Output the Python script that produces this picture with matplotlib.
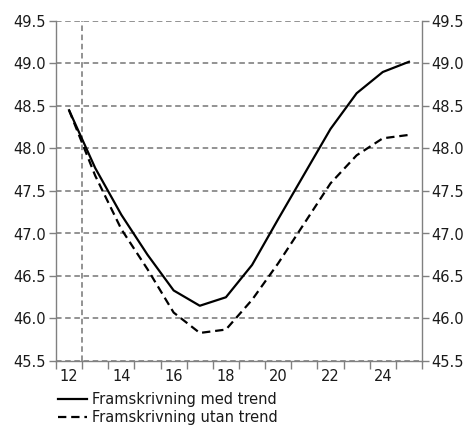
import numpy as np
import matplotlib
matplotlib.use("Agg")
import matplotlib.pyplot as plt

plt.rcParams['font.family'] = ['DejaVu Sans']
plt.rcParams['lines.scale_dashes'] = False

years = [12, 13, 14, 15, 16, 17, 18, 19, 20, 21, 22, 23, 24, 25]
med_trend = [48.45, 47.77, 47.22, 46.75, 46.33, 46.15, 46.25, 46.63,
             47.17, 47.70, 48.23, 48.65, 48.90, 49.02]
utan_trend = [48.45, 47.68, 47.05, 46.58, 46.07, 45.83, 45.87, 46.22,
              46.65, 47.12, 47.59, 47.92, 48.12, 48.16]
xlabels = ["12", "14", "16", "18", "20", "22", "24"]
yticks = [45.5, 46.0, 46.5, 47.0, 47.5, 48.0, 48.5, 49.0, 49.5]

grey = '#808080'
txt = '#1a1a1a'
fs = 10.5

fig = plt.figure(figsize=(4.71, 4.25), dpi=100)
ax = fig.add_axes([56/471, 1 - 361/425, (422-56)/471, (361-21)/425])

xx = np.arange(len(years))
ax.plot(xx, med_trend, color='black', lw=1.6, label='Framskrivning med trend', zorder=3)
ax.plot(xx, utan_trend, color='black', lw=1.6, ls=(0, (6, 3.5)),
        label='Framskrivning utan trend', zorder=3)

ax.set_xlim(-0.5, len(years) - 0.5)
ax.set_ylim(45.5, 49.5)

# horizontal grid + vertical marker line
for y in yticks:
    ax.axhline(y, color=grey, lw=1.2, ls=(0, (4, 2.6)), zorder=1)
ax.axvline(0.5, color=grey, lw=1.2, ls=(0, (4, 2.6)), zorder=1)

# x ticks at category boundaries, labels every other year
ax.set_xticks(np.arange(-0.5, len(years), 1.0))
ax.set_xticklabels([])
ax.set_xticks(np.arange(0, len(years), 2), minor=True)
ax.set_xticklabels(xlabels, minor=True)
ax.tick_params(axis='x', which='major', direction='out', length=6, color=grey, width=1)
ax.tick_params(axis='x', which='minor', length=0, pad=6, labelsize=fs, labelcolor=txt)

ax.set_yticks(yticks)
ax.set_yticklabels([f"{v:.1f}" for v in yticks])
ax.tick_params(axis='y', which='both', direction='out', length=5, color=grey, width=1,
               left=True, right=True, labelleft=True, labelright=True,
               labelsize=fs, labelcolor=txt, pad=2)

for s in ['left', 'right', 'bottom']:
    ax.spines[s].set_color(grey)
    ax.spines[s].set_linewidth(1)
ax.spines['top'].set_visible(False)

leg = fig.legend(loc='upper left', bbox_to_anchor=(58/471, 1 - 392/425), frameon=False,
                 fontsize=fs, handlelength=2.0, handletextpad=0.35, labelspacing=0.2,
                 borderpad=0, borderaxespad=0)
for t in leg.get_texts():
    t.set_color(txt)

fig.savefig('out.png', dpi=100)
